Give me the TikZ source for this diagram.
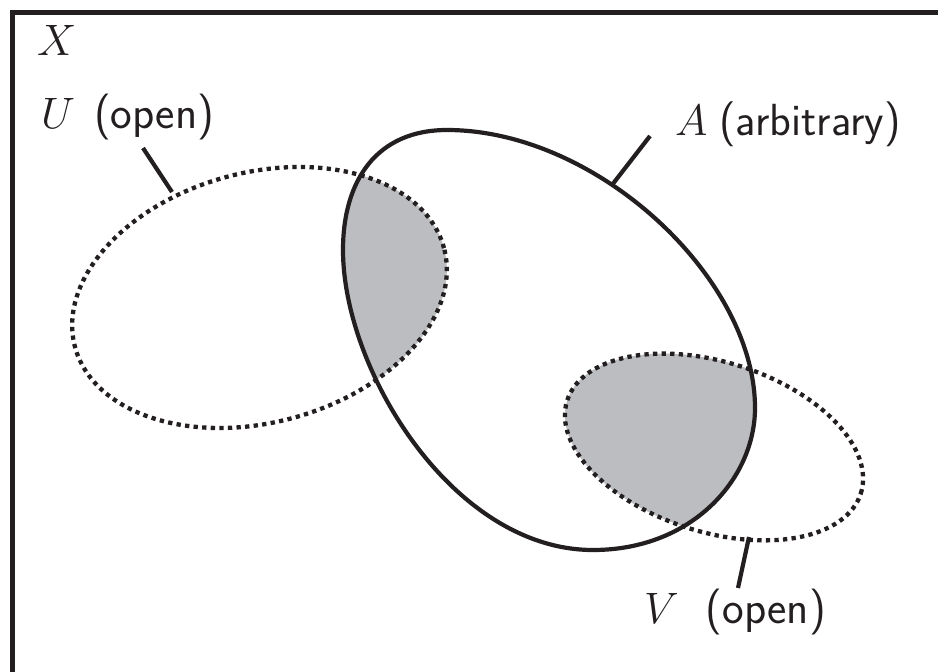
\RequirePackage{fix-cm}
\documentclass[tikz,border=0pt]{standalone}
\usepackage{fontspec}
\definecolor{ink}{RGB}{35,31,32}
\definecolor{areagray}{RGB}{188,189,192}
\begin{document}
\begin{tikzpicture}[x=1pt,y=-1pt,
  solidline/.style={draw=ink,line width=4.2pt},
  dotline/.style={draw=ink,line width=4.3pt,dash pattern=on 4.3pt off 4.3pt},
  leader/.style={draw=ink,line width=4.2pt},
  framestyle/.style={draw=ink,line width=4.5pt},
  lbl/.style={anchor=base west,inner sep=0pt,text=ink,font=\fontsize{44}{50}\selectfont},
]
\useasboundingbox (0,0) rectangle (938,672);
\fill[white] (0,0) rectangle (938,672);
\draw[framestyle] (12.5,700) -- (12.5,12.5) -- (960,12.5);

% shaded intersections
\begin{scope}
  \clip (447,130) .. controls (597,130) and (755,278) .. (755,408)
        .. controls (755,478) and (693,550) .. (593,550)
        .. controls (453,550) and (343,370) .. (343,250)
        .. controls (343,180) and (377,130) .. (447,130) -- cycle;
  \fill[areagray] (259.5,297.5) circle [x radius=191pt, y radius=125pt, rotate=15];
  \fill[areagray] (714,447) circle [x radius=154pt, y radius=85pt, rotate=-17.5];
\end{scope}

% open sets U and V
\draw[dotline] (259.5,297.5) circle [x radius=191pt, y radius=125pt, rotate=15];
\draw[dotline] (714,447) circle [x radius=154pt, y radius=85pt, rotate=-17.5];

% arbitrary set A
\draw[solidline] (447,130) .. controls (597,130) and (755,278) .. (755,408)
        .. controls (755,478) and (693,550) .. (593,550)
        .. controls (453,550) and (343,370) .. (343,250)
        .. controls (343,180) and (377,130) .. (447,130) -- cycle;

% labels
\node[lbl] (labX) at (37,55) {$X$};
\node[lbl] (labU) at (41,128) {$U$\hspace{19pt}{\fontsize{46}{50}\selectfont\sffamily(open)}};
\node[lbl] (labA) at (675,135) {$A$\hspace{12pt}{\fontsize{45}{50}\selectfont\sffamily(arbitrary)}};
\node[lbl] (labV) at (644,623) {$V$\hspace{27pt}{\fontsize{46}{50}\selectfont\sffamily(open)}};

% leaders
\coordinate (uEnd) at (143,148);
\coordinate (uTip) at (172,192);
\coordinate (aEnd) at (650,136);
\coordinate (aTip) at (612,185);
\coordinate (vEnd) at (738,588);
\coordinate (vTip) at (749,537);
\draw[leader] (uEnd) -- (uTip);
\draw[leader] (aEnd) -- (aTip);
\draw[leader] (vEnd) -- (vTip);
\end{tikzpicture}
\end{document}
